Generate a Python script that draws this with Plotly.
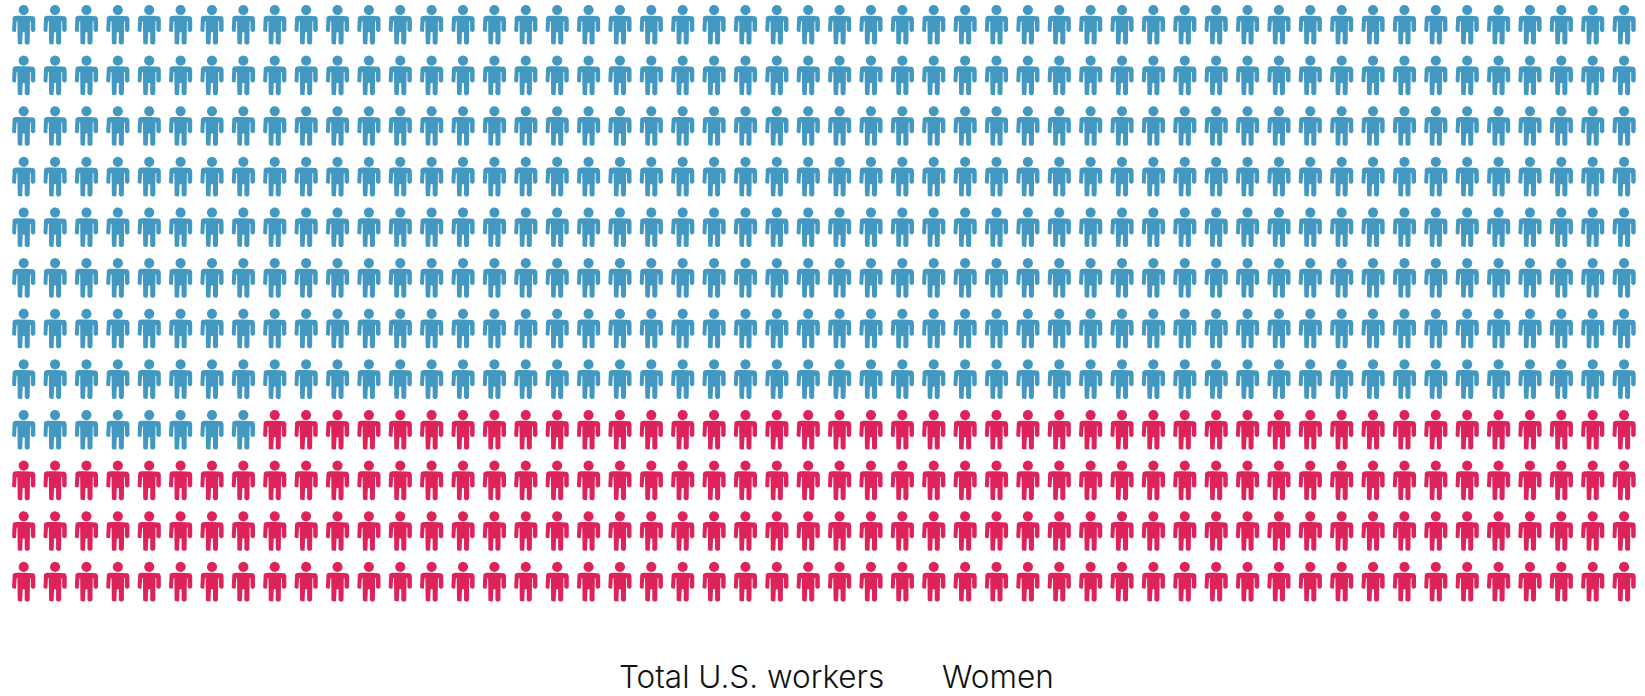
import math
import plotly.graph_objects as go

series_names = ["Total U.S. workers", "Women"]
series_counts = [424, 200]
series_colors = ["#4298C0", "#DD2359"]
n_columns = 52
n_rows = 12

W, H = 1645, 696
col_px, row_px = 31.38, 50.63
left_px, top_px = 23.7, 5.0

half = [(0, 10.7), (7.8, 10.7), (9.8, 11.2), (11.0, 12.3), (11.6, 14.2), (11.6, 25.4),
        (11.1, 26.4), (10.1, 26.9), (8.7, 26.9), (7.7, 26.4), (7.1, 25.4), (7.1, 16.6),
        (6.3, 16.0), (6.0, 38.2), (5.5, 39.1), (4.6, 39.5), (2.5, 39.5), (1.5, 39.1),
        (1.0, 38.2), (1.0, 27.5), (0, 27.0)]
body = half + [(-x, y) for x, y in reversed(half[:-1])]
head = [(5.1 * math.cos(a * math.pi / 12), 5.0 + 5.1 * math.sin(a * math.pi / 12)) for a in range(25)]


def icons(indices):
    xs, ys = [], []
    for i in indices:
        r, c = divmod(i, n_columns)
        for part in (head, body):
            xs += [c + px / col_px for px, _ in part] + [None]
            ys += [r + py / row_px for _, py in part] + [None]
    return xs, ys


fig = go.Figure()
start = 0
for name, count, color in zip(series_names, series_counts, series_colors):
    xs, ys = icons(range(start, start + count))
    start += count
    fig.add_trace(go.Scatter(x=xs, y=ys, name=name, mode="lines", fill="toself",
                             fillcolor=color, line=dict(width=0, color=color),
                             hoverinfo="skip", showlegend=False))

label_font = dict(family="Inter", size=31.5, color="#111111", weight=300)
fig.add_annotation(text=series_names[0], xref="paper", yref="paper", x=751 / W, y=1 - 676.5 / H,
                   yanchor="middle", showarrow=False, font=label_font)
fig.add_annotation(text=series_names[1], xref="paper", yref="paper", x=997.5 / W, y=1 - 676.5 / H,
                   yanchor="middle", showarrow=False, font=label_font)

fig.update_layout(
    width=W, height=H, margin=dict(l=0, r=0, t=0, b=0),
    paper_bgcolor="white", plot_bgcolor="white",
    xaxis=dict(visible=False, range=[-left_px / col_px, (W - left_px) / col_px]),
    yaxis=dict(visible=False, range=[(H - top_px) / row_px, -top_px / row_px]),
)
fig.write_html("out.html", config=dict(displayModeBar=False),
               post_script="document.body.style.margin='0';")
